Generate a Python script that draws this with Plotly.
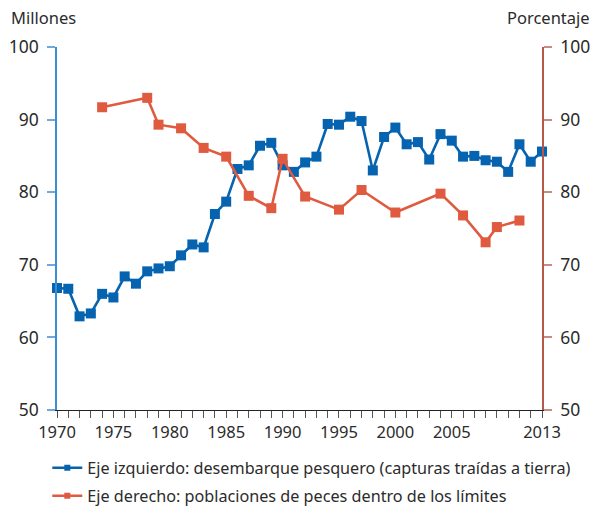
import plotly.graph_objects as go

# Desembarque pesquero mundial (millones de toneladas), 1970-2013
years_catch = list(range(1970, 2014))
catch = [66.8, 66.7, 62.9, 63.3, 66.0, 65.5, 68.4, 67.4, 69.1, 69.5,
         69.8, 71.3, 72.8, 72.4, 77.0, 78.7, 83.2, 83.7, 86.4, 86.8,
         83.7, 82.8, 84.1, 84.9, 89.4, 89.3, 90.4, 89.8, 83.0, 87.6,
         88.9, 86.6, 86.9, 84.5, 88.0, 87.1, 84.9, 85.0, 84.4, 84.2,
         82.8, 86.6, 84.2, 85.6]

# Poblaciones de peces dentro de los límites (porcentaje)
years_stocks = [1974, 1978, 1979, 1981, 1983, 1985, 1987, 1989, 1990, 1992,
                1995, 1997, 2000, 2004, 2006, 2008, 2009, 2011]
stocks = [91.7, 93.0, 89.3, 88.8, 86.1, 84.9, 79.5, 77.8, 84.6, 79.4,
          77.6, 80.3, 77.2, 79.8, 76.8, 73.1, 75.2, 76.1]

x_tick_vals = [1970, 1975, 1980, 1985, 1990, 1995, 2000, 2005, 2013]
y_tick_vals = [50, 60, 70, 80, 90, 100]

BLUE = "#0563B0"
RED = "#E05A3F"
FONT = "Noto Sans"
TEXT = "#2b2b2b"

name_catch = "Eje izquierdo: desembarque pesquero (capturas traídas a tierra)"
name_stocks = "Eje derecho: poblaciones de peces dentro de los límites"

fig = go.Figure()

fig.add_trace(go.Scatter(
    x=years_catch, y=catch, mode="lines+markers", yaxis="y",
    line=dict(color=BLUE, width=2.6),
    marker=dict(symbol="square", size=10, color=BLUE),
    cliponaxis=False, showlegend=False, hoverinfo="x+y",
))
fig.add_trace(go.Scatter(
    x=years_stocks, y=stocks, mode="lines+markers", yaxis="y2",
    line=dict(color=RED, width=2.6),
    marker=dict(symbol="square", size=10, color=RED),
    cliponaxis=False, showlegend=False, hoverinfo="x+y",
))

# legend entries with a smaller marker
fig.add_trace(go.Scatter(
    x=[None], y=[None], mode="lines+markers", name=name_catch,
    line=dict(color=BLUE, width=2.6),
    marker=dict(symbol="square", size=6, color=BLUE),
    legendgroup="a",
))
fig.add_trace(go.Scatter(
    x=[None], y=[None], mode="lines+markers", name=name_stocks,
    line=dict(color=RED, width=2.6),
    marker=dict(symbol="square", size=6, color=RED),
    legendgroup="b",
))

fig.update_layout(
    width=595, height=510,
    margin=dict(l=57, r=53, t=47, b=100, autoexpand=False),
    paper_bgcolor="white", plot_bgcolor="white",
    font=dict(family=FONT, size=16, color=TEXT),
    xaxis=dict(
        range=[1970, 2013], tickmode="array", tickvals=x_tick_vals,
        ticks="outside", ticklen=7, tickwidth=1, tickcolor="#555",
        showline=True, linecolor="#222", linewidth=1,
        showgrid=False, zeroline=False,
        tickfont=dict(size=16.5, color=TEXT),
        minor=dict(tickmode="linear", tick0=1970, dtick=1, ticks="outside",
                   ticklen=7, tickwidth=1, tickcolor="#555", showgrid=False),
    ),
    yaxis=dict(
        range=[50, 100], tickmode="array", tickvals=y_tick_vals,
        ticks="outside", ticklen=8, tickwidth=1.5, tickcolor="#6FA8DC",
        showline=True, linecolor="#3A8FD4", linewidth=1.5,
        showgrid=False, zeroline=False, ticklabelstandoff=5,
        tickfont=dict(size=17.5, color=TEXT),
    ),
    yaxis2=dict(
        range=[50, 100], tickmode="array", tickvals=y_tick_vals,
        overlaying="y", side="right",
        ticks="outside", ticklen=8, tickwidth=1.5, tickcolor="#C98A80",
        showline=True, linecolor="#B5574A", linewidth=1.5,
        showgrid=False, zeroline=False, ticklabelstandoff=5,
        tickfont=dict(size=17.5, color=TEXT),
    ),
    legend=dict(
        x=-0.02, xanchor="left", y=-0.112, yanchor="top",
        font=dict(size=16.2, color=TEXT), bgcolor="rgba(0,0,0,0)",
        traceorder="grouped", tracegroupgap=4, itemwidth=30,
    ),
    annotations=[
        dict(text="Millones", xref="paper", yref="paper", x=0, y=1,
             xanchor="right", yanchor="bottom", xshift=21, yshift=16,
             showarrow=False, font=dict(size=16.5, color=TEXT)),
        dict(text="Porcentaje", xref="paper", yref="paper", x=1, y=1,
             xanchor="left", yanchor="bottom", xshift=-37, yshift=16,
             showarrow=False, font=dict(size=16.5, color=TEXT)),
    ],
)

fig.write_html("out.html")
